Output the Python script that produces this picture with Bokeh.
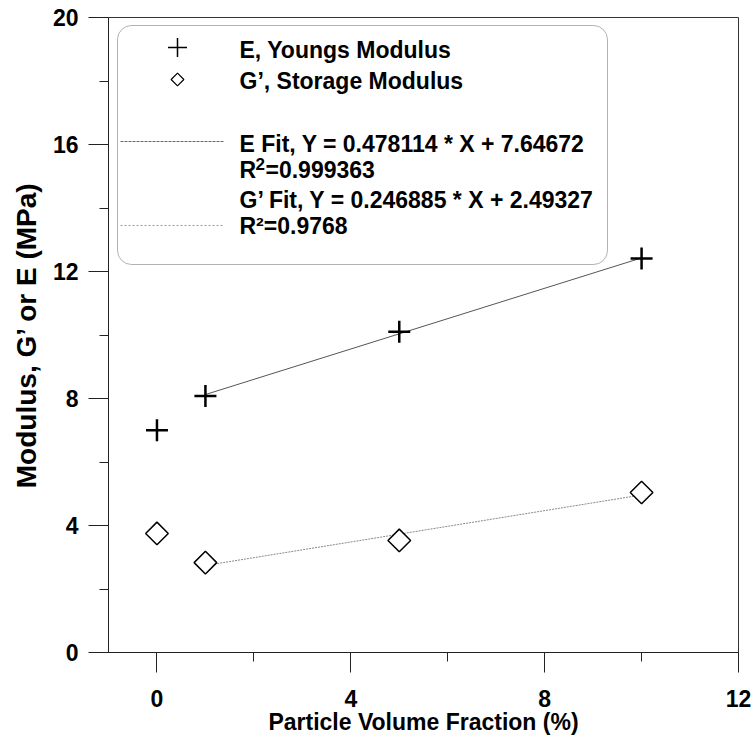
import numpy as np
from bokeh.plotting import figure
from bokeh.models import Range1d, FixedTicker, BoxAnnotation
from bokeh.core.properties import value
from bokeh.embed import file_html
from bokeh.resources import INLINE

# Measured moduli versus particle volume fraction
vol_fraction = [0, 1, 5, 10]
youngs_E = [7.0, 8.08, 10.1, 12.41]
storage_G = [3.75, 2.83, 3.53, 5.04]

# Linear fits (over the filled samples, 1-10 %)
e_slope, e_intercept = 0.478114, 7.64672
g_slope, g_intercept = 0.246885, 2.49327
fit_x = [1, 10]

x_ticks = [0, 4, 8, 12]
x_minor = [2, 6, 10]
y_ticks = [0, 4, 8, 12, 16, 20]
y_minor = [2, 6, 10, 14, 18]

FONT = "Liberation Sans"
X0, X1 = -1.0, 12.0
Y0, Y1 = 0.0, 20.0
FW, FH = 630, 635
LEFT, TOP = 108, 17

p = figure(
    frame_width=FW, frame_height=FH,
    min_border_left=LEFT, min_border_top=TOP,
    min_border_right=756 - LEFT - FW, min_border_bottom=736 - TOP - FH,
    x_range=Range1d(X0, X1), y_range=Range1d(Y0, Y1),
    output_backend="svg", toolbar_location=None,
)
p.background_fill_color = "white"
p.border_fill_color = "white"
p.outline_line_color = "#333333"
p.outline_line_width = 1
p.grid.visible = False

for ax, ticks, minor in ((p.xaxis[0], x_ticks, x_minor), (p.yaxis[0], y_ticks, y_minor)):
    ax.ticker = FixedTicker(ticks=ticks, minor_ticks=minor)
    ax.major_tick_in = 0
    ax.major_tick_out = 20
    ax.minor_tick_in = 0
    ax.minor_tick_out = 9
    ax.axis_line_color = "#222222"
    ax.major_tick_line_color = "#222222"
    ax.minor_tick_line_color = "#222222"
    ax.major_label_text_font = FONT
    ax.major_label_text_font_style = "bold"
    ax.major_label_text_font_size = "23px"
    ax.major_label_text_color = "black"
    ax.axis_label_text_font = FONT
    ax.axis_label_text_font_style = "bold"
    ax.axis_label_text_color = "black"

p.xaxis.axis_label = "Particle Volume Fraction (%)"
p.yaxis.axis_label = "Modulus, G\u2019 or E (MPa)"
p.xaxis.axis_label_text_font_size = "23px"
p.yaxis.axis_label_text_font_size = "28px"
p.xaxis.major_label_standoff = 17
p.xaxis.axis_label_standoff = -1
p.yaxis.major_label_standoff = 10
p.yaxis.axis_label_standoff = 8

# Fit lines
e_fit_y = [e_slope * x + e_intercept for x in fit_x]
g_fit_y = [g_slope * x + g_intercept for x in fit_x]
p.line(fit_x, e_fit_y, line_color="#555555", line_width=1)
p.line(fit_x, g_fit_y, line_color="#888888", line_width=1, line_dash="2 1")

# Data points
p.scatter(vol_fraction, youngs_E, marker="cross", size=22, line_color="black", line_width=2.5)
p.scatter(vol_fraction, storage_G, marker="square", angle=np.pi / 4, size=16,
          fill_color="white", line_color="black", line_width=1.5)


# Legend, laid out in pixel positions within the frame
def dx(px):
    return X0 + (px - LEFT) / FW * (X1 - X0)


def dy(py):
    return Y1 - (py - TOP) / FH * (Y1 - Y0)


p.add_layout(BoxAnnotation(left=dx(117), right=dx(607), top=dy(25), bottom=dy(264),
                           fill_color=None, line_color="black", line_width=1,
                           border_radius=14, level="overlay"))

p.scatter([dx(177)], [dy(47)], marker="cross", size=19, line_color="black", line_width=1.5)
p.scatter([dx(177)], [dy(79)], marker="square", angle=np.pi / 4, size=9,
          fill_color="white", line_color="black", line_width=1.2)
p.line([dx(120), dx(223)], [dy(141), dy(141)], line_color="#666666", line_width=1, line_dash="3 1")
p.line([dx(120), dx(223)], [dy(225), dy(225)], line_color="#999999", line_width=1, line_dash="2 2")

text_kw = dict(text_font=value(FONT), text_font_style="bold", text_font_size="23px",
               text_baseline="middle", text_align="left", text_color="black")
legend_rows = [
    (239, 49, "E, Youngs Modulus"),
    (239, 80, "G\u2019, Storage Modulus"),
    (239, 143, "E Fit, Y = 0.478114 * X + 7.64672"),
    (239, 199, "G\u2019 Fit, Y = 0.246885 * X + 2.49327"),
    (239, 225, "R\u00b2=0.9768"),
]
p.text(x=[dx(r[0]) for r in legend_rows], y=[dy(r[1]) for r in legend_rows],
       text=[r[2] for r in legend_rows], **text_kw)

# R^2 with a full-size raised exponent
p.text(x=[dx(239)], y=[dy(169)], text=["R"], **text_kw)
p.text(x=[dx(255)], y=[dy(163)], text=["2"],
       **{**text_kw, "text_font_size": "17px"})
p.text(x=[dx(265)], y=[dy(169)], text=["=0.999363"], **text_kw)

open("out.html", "w").write(file_html(p, INLINE))
